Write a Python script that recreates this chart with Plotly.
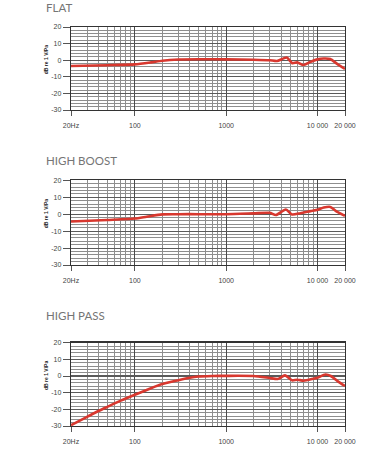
import math
import plotly.graph_objects as go

# ---------------- data ----------------
freq_flat = [20, 50, 100, 150, 200, 300, 500, 1000, 2000, 3000, 3600, 4600, 5300, 6000, 7000, 8400, 10000, 11700, 13800, 16400, 20000]
db_flat = [-3.5, -3.0, -2.5, -1.3, -0.3, 0.4, 0.6, 0.5, 0.3, 0.0, -0.5, 1.6, -1.8, -1.3, -2.9, -1.0, 0.5, 1.0, 0.7, -2.2, -5.3]

freq_boost = [20, 50, 100, 135, 200, 300, 500, 1000, 2000, 3000, 3500, 4500, 5260, 6500, 8400, 10000, 11700, 13800, 15800, 20000]
db_boost = [-4.3, -3.4, -2.6, -1.5, -0.1, 0.0, 0.0, 0.0, 0.5, 0.8, -0.5, 2.8, -0.2, 0.6, 1.8, 2.6, 3.9, 4.3, 2.0, -1.0]

freq_pass = [20, 30, 40, 50, 70, 100, 150, 200, 300, 400, 500, 700, 1000, 2000, 3000, 3660, 4400, 5260, 6000, 7050, 9000, 10000, 12200, 14000, 17000, 20000]
db_pass = [-29.5, -24.5, -21.0, -18.5, -14.8, -11.2, -7.3, -4.8, -2.5, -1.0, -0.3, 0.0, 0.1, 0.0, -1.2, -1.8, 0.4, -2.6, -2.2, -2.8, -1.6, -1.0, 0.9, 0.0, -3.5, -6.0]

titles = ["FLAT", "HIGH BOOST", "HIGH PASS"]
x_tick_vals = [20, 100, 1000, 10000, 20000]
x_tick_text = ["20Hz", "100", "1000", "10 000", "20 000"]
x_minor_vals = [30, 40, 50, 60, 70, 80, 90,
                200, 300, 400, 500, 600, 700, 800, 900,
                2000, 3000, 4000, 5000, 6000, 7000, 8000, 9000]
y_tick_vals = [-30, -20, -10, 0, 10, 20]
y_tick_text = ["-30", "-20", "-10", "0", "10", "20"]
y_title = "dB re 1 V/Pa"

series = [(freq_flat, db_flat), (freq_boost, db_boost), (freq_pass, db_pass)]

# ---------------- layout geometry ----------------
W, H = 390, 468
x_dom = [71 / W, 345 / W]
y_doms = [[1 - 110 / H, 1 - 27 / H],
          [1 - 265 / H, 1 - 180.3 / H],
          [1 - 426 / H, 1 - 342.7 / H]]
title_y = [1 - 7.5 / H, 1 - 160 / H, 1 - 315.7 / H]

RED = "#d8382f"
MAJOR = "#4a4a4a"
MINOR = "#8e8e8e"

fig = go.Figure()
layout = dict(width=W, height=H, autosize=False, margin=dict(l=0, r=0, t=0, b=0, autoexpand=False),
              paper_bgcolor="white", plot_bgcolor="white", showlegend=False,
              annotations=[])

for i, (f, d) in enumerate(series):
    n = "" if i == 0 else str(i + 1)
    fig.add_trace(go.Scatter(x=f, y=d, mode="lines", xaxis="x" + n, yaxis="y" + n,
                             line=dict(color=RED, width=2.6, shape="spline", smoothing=0.6),
                             hoverinfo="skip"))
    layout["xaxis" + n] = dict(
        type="log", range=[math.log10(20), math.log10(20000)], domain=x_dom,
        anchor="y" + n, tickmode="array", tickvals=x_tick_vals, ticktext=x_tick_text,
        ticks="outside", ticklen=5, tickwidth=1, tickcolor="#555",
        ticklabelstandoff=3, automargin=False,
        showgrid=True, gridcolor=MAJOR, gridwidth=1.3,
        minor=dict(tickmode="array", tickvals=x_minor_vals, showgrid=True,
                   gridcolor=MINOR, gridwidth=1, ticks=""),
        showline=True, linecolor="#333", linewidth=1.3, mirror=True,
        zeroline=False, tickfont=dict(family="Liberation Sans", size=7, color="#444"),
        fixedrange=True)
    layout["yaxis" + n] = dict(
        range=[-30, 20], domain=y_doms[i], anchor="x" + n,
        tickmode="array", tickvals=y_tick_vals, ticktext=y_tick_text,
        ticks="outside", ticklen=7, tickwidth=1, tickcolor="#555", automargin=False,
        showgrid=True, gridcolor="#5a5a5a", gridwidth=1.1,
        minor=dict(dtick=2, showgrid=True, gridcolor=MINOR, gridwidth=1, ticks=""),
        showline=True, linecolor="#333", linewidth=1.3, mirror=True,
        zeroline=False, tickfont=dict(family="Liberation Sans", size=7, color="#444"),
        fixedrange=True)
    layout["annotations"].append(dict(
        text=titles[i], xref="paper", yref="paper", x=44 / W, y=title_y[i],
        xanchor="left", yanchor="middle", showarrow=False,
        font=dict(family="Lato", size=11.5, color="#757575")))
    layout["annotations"].append(dict(
        text="<b>" + y_title + "</b>", xref="paper", yref="y" + n, x=46 / W, y=0,
        xanchor="center", yanchor="middle", showarrow=False, textangle=-90,
        font=dict(family="Liberation Sans", size=5, color="#222")))

fig.update_layout(**layout)
fig.write_html("out.html",
               config={"responsive": False, "displayModeBar": False, "staticPlot": True},
               default_width="390px", default_height="468px",
               post_script="document.body.style.margin='0';document.body.style.overflow='hidden';")
